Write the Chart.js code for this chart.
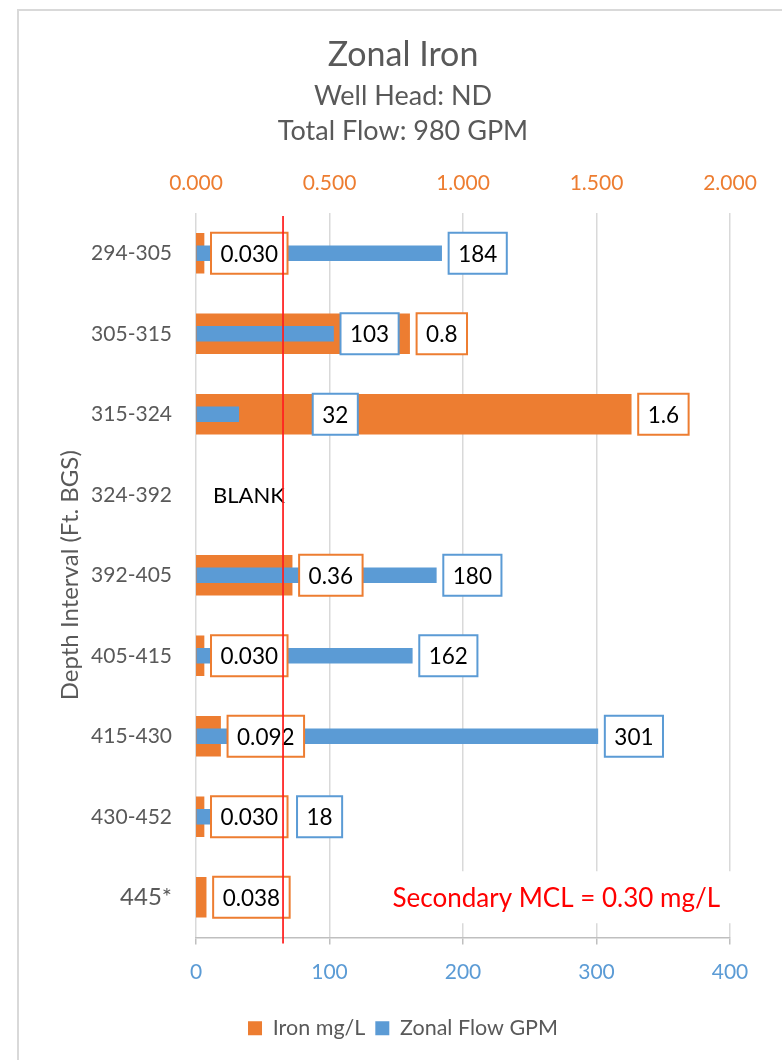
<!DOCTYPE html>
<html>
<head>
<meta charset="utf-8">
<title>Zonal Iron</title>
<script src="https://cdn.jsdelivr.net/npm/chart.js@4.4.0/dist/chart.umd.min.js"></script>
<style>
  html, body { margin: 0; padding: 0; background: #fff; }
  #wrap { position: relative; width: 782px; height: 1060px; overflow: hidden; }
  #frame { position: absolute; left: 17px; top: 9px; width: 820px; height: 1100px; border: 2px solid #d9d9d9; box-sizing: border-box; }
  canvas { position: absolute; left: 0; top: 0; }
</style>
</head>
<body>
<div id="wrap">
  <div id="frame"></div>
  <canvas id="ironChart" width="782" height="1060"></canvas>
</div>
<script>
// Chart data
const depthIntervals = ['294-305', '305-315', '315-324', '324-392', '392-405', '405-415', '415-430', '430-452', '445*'];
const ironValues = [0.030, 0.8, 1.63, null, 0.36, 0.030, 0.092, 0.030, 0.038];
const ironLabels = ['0.030', '0.8', '1.6', '', '0.36', '0.030', '0.092', '0.030', '0.038'];
const flowValues = [184, 103, 32, null, 180, 162, 301, 18, null];
const flowLabels = ['184', '103', '32', '', '180', '162', '301', '18', ''];
const ironTicks = [0, 0.5, 1.0, 1.5, 2.0];
const flowTicks = [0, 100, 200, 300, 400];
const mclLineAt = 0.326;   // where the red MCL marker sits on the iron axis
const blankRow = '324-392';
const noteRow = '445*';

const ORANGE = '#ED7D31';
const BLUE = '#5B9BD5';
const GREY_TEXT = '#595959';

Chart.defaults.font.family = 'Lato';
Chart.defaults.color = GREY_TEXT;

// label boxes that were dragged away from the bar end in the original
const labelNudge = { '1-2': 67, '1-7': 70 };

const boxLabels = {
    id: 'boxLabels',
    afterDatasetsDraw(chart) {
        const ctx = chart.ctx;
        const texts = [ironLabels, flowLabels];
        const colors = [ORANGE, BLUE];
        ctx.save();
        ctx.font = '22.5px Lato';
        ctx.textBaseline = 'middle';
        ctx.textAlign = 'center';
        chart.data.datasets.forEach((ds, di) => {
            const meta = chart.getDatasetMeta(di);
            meta.data.forEach((bar, i) => {
                const text = texts[di][i];
                if (!text) return;
                const w = ctx.measureText(text).width + 19;
                const h = 41;
                const x = bar.x + 7 + (labelNudge[di + '-' + i] || 0);
                const y = bar.y - h / 2;
                ctx.fillStyle = '#ffffff';
                ctx.fillRect(x, y, w, h);
                ctx.lineWidth = 2;
                ctx.strokeStyle = colors[di];
                ctx.strokeRect(x, y, w, h);
                ctx.fillStyle = '#000000';
                ctx.fillText(text, x + w / 2, bar.y + 1);
            });
        });

        const yScale = chart.scales.y;
        const xFlow = chart.scales.x;
        const area = chart.chartArea;

        // BLANK marker for the unsampled interval
        ctx.textAlign = 'left';
        ctx.font = '22px Lato';
        ctx.fillText('BLANK', xFlow.getPixelForValue(0) + 17, yScale.getPixelForValue(depthIntervals.indexOf(blankRow)) + 1);

        // Secondary MCL note
        const note = 'Secondary MCL = 0.30 mg/L';
        ctx.font = '26px Lato';
        const ny = yScale.getPixelForValue(depthIntervals.indexOf(noteRow));
        const nw = ctx.measureText(note).width;
        const right = area.right - 10;
        ctx.fillStyle = '#ffffff';
        ctx.fillRect(right - nw - 6, ny - 26, nw + 22, 52);
        ctx.fillStyle = '#FF0000';
        ctx.textAlign = 'right';
        ctx.fillText(note, right, ny + 1);
        ctx.restore();
    },
    afterDraw(chart) {
        const ctx = chart.ctx;
        const area = chart.chartArea;
        const x = chart.scales.xIron.getPixelForValue(mclLineAt);
        ctx.save();
        ctx.strokeStyle = '#FF2020';
        ctx.lineWidth = 1.75;
        ctx.beginPath();
        ctx.moveTo(x, area.top + 3);
        ctx.lineTo(x, area.bottom + 6);
        ctx.stroke();
        ctx.restore();
    }
};

new Chart(document.getElementById('ironChart'), {
    type: 'bar',
    data: {
        labels: depthIntervals,
        datasets: [
            {
                label: 'Iron mg/L',
                data: ironValues,
                xAxisID: 'xIron',
                backgroundColor: ORANGE,
                barThickness: 40,
                grouped: false,
                order: 2
            },
            {
                label: 'Zonal Flow GPM',
                data: flowValues,
                xAxisID: 'x',
                backgroundColor: BLUE,
                barThickness: 15,
                grouped: false,
                order: 1
            }
        ]
    },
    options: {
        indexAxis: 'y',
        responsive: false,
        animation: false,
        layout: { padding: { top: 10, left: 76, right: 52, bottom: 11 } },
        plugins: {
            title: {
                display: true,
                text: 'Zonal Iron',
                color: GREY_TEXT,
                font: { size: 34, weight: 'normal', lineHeight: 1.2 },
                padding: { top: 24.6, bottom: 3 }
            },
            subtitle: {
                display: true,
                text: ['Well Head: ND', 'Total Flow: 980 GPM'],
                color: GREY_TEXT,
                font: { size: 27, lineHeight: 35 / 27 },
                padding: { top: 0, bottom: 0 }
            },
            legend: {
                position: 'bottom',
                labels: {
                    boxWidth: 14,
                    boxHeight: 14,
                    color: GREY_TEXT,
                    font: { size: 21.5 },
                    padding: 10,
                    sort: (a, b) => a.datasetIndex - b.datasetIndex
                }
            },
            tooltip: { enabled: false }
        },
        scales: {
            x: {
                position: 'bottom',
                min: flowTicks[0],
                max: flowTicks[flowTicks.length - 1],
                ticks: {
                    stepSize: flowTicks[1] - flowTicks[0],
                    color: BLUE,
                    font: { size: 21 },
                    padding: 15
                },
                grid: { color: '#d9d9d9', lineWidth: 1.5, tickColor: '#bfbfbf', tickLength: 7 },
                border: { display: true, color: '#bfbfbf', width: 1.5 },
                afterFit: s => { s.height = 70; }
            },
            xIron: {
                position: 'top',
                min: ironTicks[0],
                max: ironTicks[ironTicks.length - 1],
                ticks: {
                    stepSize: ironTicks[1] - ironTicks[0],
                    color: ORANGE,
                    font: { size: 21 },
                    padding: 9,
                    callback: v => Number(v).toFixed(3)
                },
                grid: { display: false },
                border: { display: false },
                afterFit: s => { s.height = 64.6; }
            },
            y: {
                grid: { display: false },
                border: { display: false },
                ticks: {
                    color: GREY_TEXT,
                    padding: 16,
                    font: ctx => ({ size: depthIntervals[ctx.index] === noteRow ? 24 : 21 })
                },
                title: {
                    display: true,
                    text: 'Depth Interval (Ft. BGS)',
                    color: GREY_TEXT,
                    font: { size: 24 },
                    padding: { top: -20.4, bottom: 0 }
                },
                afterFit: s => { s.width = 120; }
            }
        }
    },
    plugins: [boxLabels]
});
</script>
</body>
</html>
